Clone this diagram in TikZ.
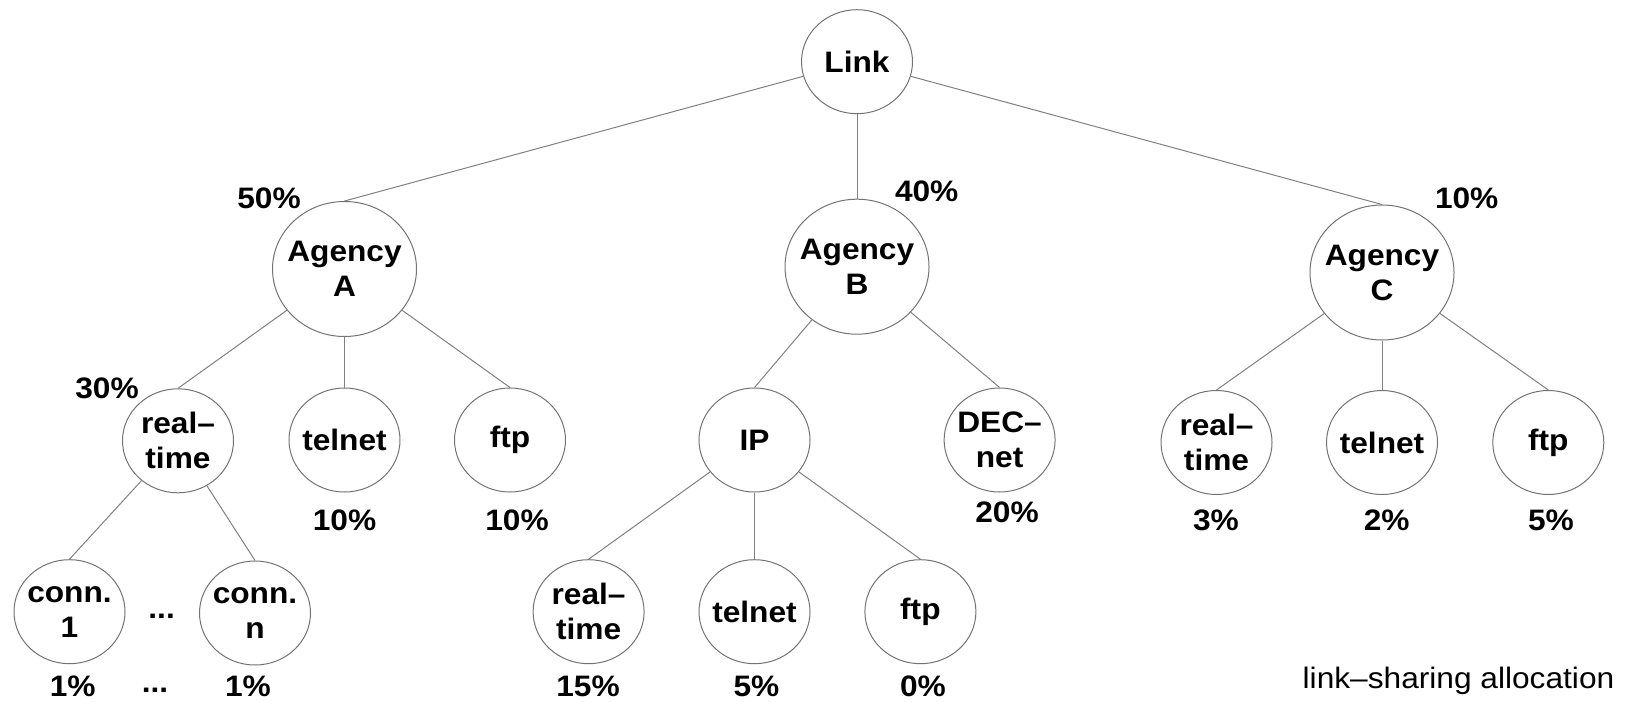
\documentclass[tikz,border=0pt]{standalone}
\usepackage{fontspec}
\setmainfont{Liberation Sans}[FakeStretch=1.07]
\usetikzlibrary{shapes.geometric}

\begin{document}
\begin{tikzpicture}[x = 0.5pt, y = -0.5pt,
  font = \fontsize{14.8}{17.5}\selectfont\bfseries,
  nodo/.style = {ellipse, draw = black!55, line width = 0.5pt,
    inner xsep = -15pt, inner ysep = 0pt,
    minimum width = 55.5pt, minimum height = 52pt, align = center},
  agenzia/.style = {nodo, minimum width = 72pt, minimum height = 67.5pt},
  ramo/.style = {draw = black!50, line width = 0.5pt},
  quota/.style = {inner sep = 0pt}]
  \useasboundingbox (0,0) rectangle (1631,701);

  % Radice
  \node[nodo] (link) at (857,61.7) {Link};

  % Agenzie
  \node[agenzia] (agA) at (344.5,269) {Agency\\A};
  \node[agenzia] (agB) at (857,266.7) {Agency\\B};
  \node[agenzia] (agC) at (1382,272.5) {Agency\\C};

  % Classi sotto l'agenzia A
  \node[nodo] (rtA) at (178,440.8) {real–\\time};
  \node[nodo] (telA) at (344.5,440) {telnet};
  \node[nodo] (ftpA) at (510,440) {ftp};
  \node[nodo] (conn1) at (69.5,611.7) {conn.\\1};
  \node[nodo] (connN) at (255,613) {conn.\\n};

  % Classi sotto l'agenzia B
  \node[nodo] (ip) at (754.5,440) {IP};
  \node[nodo] (dec) at (999.6,440) {DEC–\\net};
  \node[nodo] (rtB) at (588.6,611.7) {real–\\time};
  \node[nodo] (telB) at (754.5,611.7) {telnet};
  \node[nodo] (ftpB) at (920.4,611.7) {ftp};

  % Classi sotto l'agenzia C
  \node[nodo] (rtC) at (1216.5,442.5) {real–\\time};
  \node[nodo] (telC) at (1382,442.5) {telnet};
  \node[nodo] (ftpC) at (1548.3,442.5) {ftp};

  % Rami dell'albero
  \draw[ramo] (link) -- (agA.north);
  \draw[ramo] (link) -- (agB.north);
  \draw[ramo] (link) -- (agC.north);
  \draw[ramo] (agA) -- (rtA.north);
  \draw[ramo] (agA) -- (telA.north);
  \draw[ramo] (agA) -- (ftpA.north);
  \draw[ramo] (rtA) -- (conn1.north);
  \draw[ramo] (rtA) -- (connN.north);
  \draw[ramo] (agB) -- (ip.north);
  \draw[ramo] (agB) -- (dec.north);
  \draw[ramo] (ip) -- (rtB.north);
  \draw[ramo] (ip) -- (telB.north);
  \draw[ramo] (ip) -- (ftpB.north);
  \draw[ramo] (agC) -- (rtC.north);
  \draw[ramo] (agC) -- (telC.north);
  \draw[ramo] (agC) -- (ftpC.north);

  % Quote di banda
  \node[quota] (qA) at (269,198) {50\%};
  \node[quota] (qB) at (926.7,191.7) {40\%};
  \node[quota] (qC) at (1466.7,198) {10\%};
  \node[quota] (qrtA) at (107,388) {30\%};
  \node[quota] (qtelA) at (344.5,520) {10\%};
  \node[quota] (qftpA) at (517,520) {10\%};
  \node[quota] (qdec) at (1007,512.5) {20\%};
  \node[quota] (qrtC) at (1216,520) {3\%};
  \node[quota] (qtelC) at (1386.7,520) {2\%};
  \node[quota] (qftpC) at (1551,520) {5\%};
  \node[quota] (qconn1) at (72.7,686.7) {1\%};
  \node[quota] (qconnN) at (248,686.7) {1\%};
  \node[quota] (qrtB) at (588,686.7) {15\%};
  \node[quota] (qtelB) at (756.5,686.7) {5\%};
  \node[quota] (qftpB) at (923,686.7) {0\%};

  % Puntini
  \node[quota, anchor = base] (punti) at (161.6,618) {...};
  \node[quota, anchor = base] (puntiQ) at (155,692) {...};

  % Legenda
  \node[quota, anchor = base east, font = \fontsize{14.8}{17.5}\selectfont\mdseries]
    (legenda) at (1614.7,688) {link–sharing allocation};
\end{tikzpicture}
\end{document}
